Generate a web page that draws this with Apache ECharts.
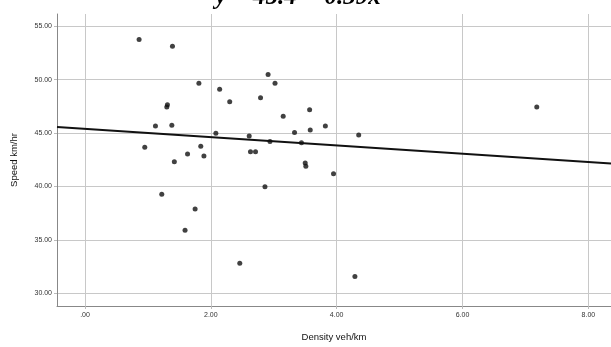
<!DOCTYPE html>
<html>
<head>
<meta charset="utf-8">
<script src="https://cdn.jsdelivr.net/npm/echarts@6/dist/echarts.min.js"></script>
<style>
  html, body { margin: 0; padding: 0; background: #fff; }
  #chart { width: 611px; height: 347px; }
</style>
</head>
<body>
<div id="chart"></div>
<script>
// Observations: traffic density (veh/km) against speed (km/hr)
const density = [0.86, 1.39, 1.81, 2.14, 2.30, 2.91, 3.02, 2.79, 1.31, 1.30,
                 3.15, 3.57, 3.58, 3.82, 3.33, 3.44, 1.12, 1.38, 2.08, 2.61,
                 2.94, 0.95, 1.84, 1.63, 1.89, 1.42, 2.63, 2.71, 3.50, 3.51,
                 3.95, 1.22, 2.86, 1.75, 1.59, 2.46, 4.35, 7.18, 4.29];
const speed   = [53.75, 53.13, 49.66, 49.10, 47.93, 50.49, 49.66, 48.30, 47.65, 47.44,
                 46.57, 47.19, 45.28, 45.65, 45.04, 44.10, 45.65, 45.74, 44.97, 44.72,
                 44.20, 43.68, 43.77, 43.03, 42.85, 42.32, 43.24, 43.24, 42.20, 41.90,
                 41.18, 39.27, 39.98, 37.88, 35.89, 32.80, 44.82, 47.44, 31.57];

// Fitted line: y = intercept + slope * x
const intercept = 45.4;
const slope = -0.39;

const xTicks = [0, 2, 4, 6, 8];
const yTicks = [30, 35, 40, 45, 50, 55];
const xRange = [-0.445, 8.36];
const yRange = [28.8, 56.15];

const points = density.map((d, i) => [d, speed[i]]);
const fitLine = xRange.map(x => [x, intercept + slope * x]);

const fmt = v => (v === 0 ? '.00' : v.toFixed(2));

const chart = echarts.init(document.getElementById('chart'));
chart.setOption({
  animation: false,
  backgroundColor: '#ffffff',
  grid: { left: 57, right: 0, top: 14, bottom: 37 },
  graphic: [{
    type: 'text',
    x: 298,
    y: 10,
    style: {
      text: 'y = ' + intercept.toFixed(1) + ' \u2212 ' + Math.abs(slope).toFixed(2) + 'x',
      font: 'italic bold 25px "Liberation Serif"',
      fill: '#000',
      align: 'center',
      verticalAlign: 'bottom'
    }
  }],
  xAxis: {
    type: 'value',
    min: xRange[0],
    max: xRange[1],
    name: 'Density veh/km',
    nameLocation: 'middle',
    nameGap: 26,
    nameTextStyle: { fontFamily: 'Liberation Sans', fontSize: 9.5, color: '#111' },
    axisLine: { onZero: false, lineStyle: { color: '#888', width: 1 } },
    axisTick: { show: true, length: 3, customValues: xTicks, lineStyle: { color: '#bbb' } },
    axisLabel: { customValues: xTicks, formatter: fmt, fontSize: 7, color: '#333', fontFamily: 'Liberation Sans', margin: 6 },
    splitLine: { show: true, lineStyle: { color: '#c8c8c8', width: 1 } }
  },
  yAxis: {
    type: 'value',
    min: yRange[0],
    max: yRange[1],
    name: 'Speed km/hr',
    nameLocation: 'middle',
    nameGap: 38,
    nameRotate: 90,
    nameTextStyle: { fontFamily: 'Liberation Sans', fontSize: 9.5, color: '#111' },
    axisLine: { show: true, onZero: false, lineStyle: { color: '#888', width: 1 } },
    axisTick: { show: true, length: 3, customValues: yTicks, lineStyle: { color: '#bbb' } },
    axisLabel: { customValues: yTicks, formatter: fmt, fontSize: 7, color: '#333', fontFamily: 'Liberation Sans', margin: 5 },
    splitLine: { show: true, lineStyle: { color: '#c8c8c8', width: 1 } }
  },
  series: [
    {
      type: 'scatter',
      data: points,
      symbol: 'circle',
      symbolSize: 5,
      itemStyle: { color: '#111' },
      z: 3
    },
    {
      type: 'line',
      data: fitLine,
      showSymbol: false,
      lineStyle: { color: '#111', width: 2 },
      z: 2
    }
  ]
});
</script>
</body>
</html>
